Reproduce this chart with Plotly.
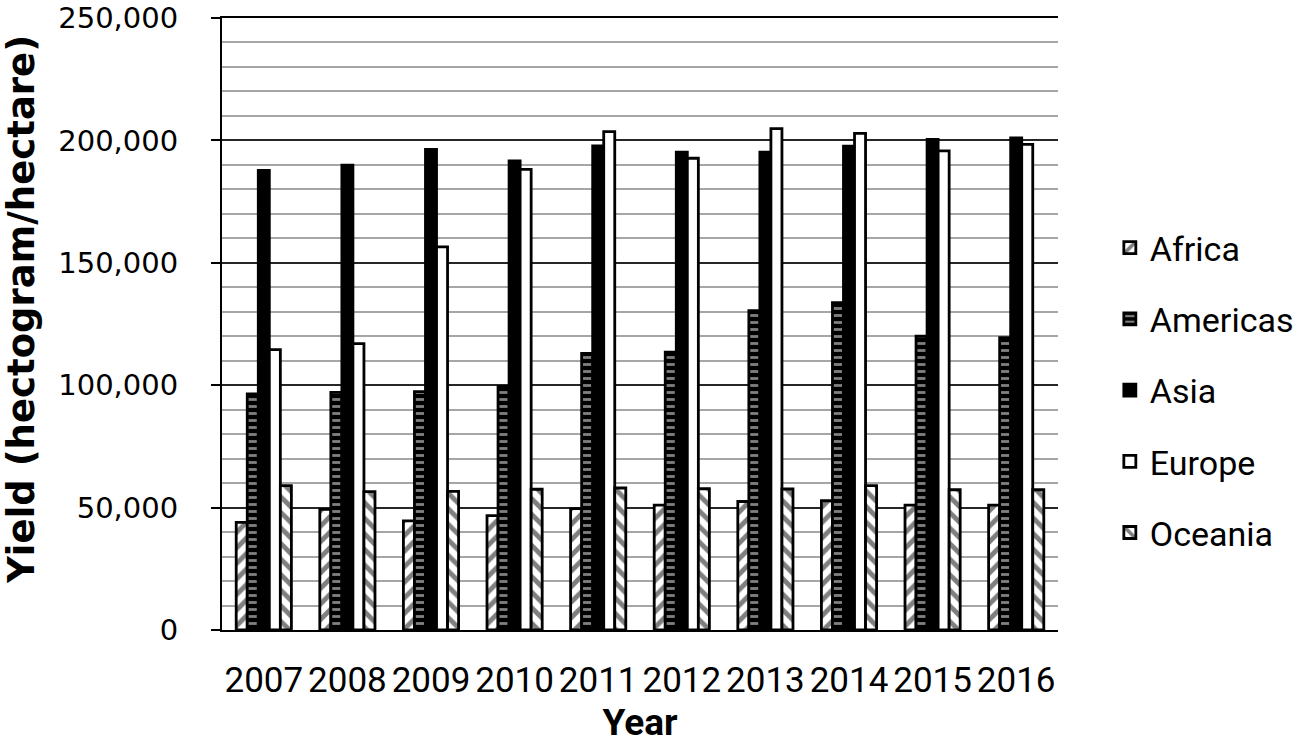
import plotly.graph_objects as go

years = ["2007", "2008", "2009", "2010", "2011", "2012", "2013", "2014", "2015", "2016"]
africa = [44000, 49300, 44600, 46700, 49600, 51000, 52500, 52800, 51000, 51000]
americas = [96400, 97100, 97400, 99500, 113000, 113500, 130500, 133700, 120000, 119400]
asia = [187700, 189900, 196300, 191600, 197800, 195200, 195200, 197700, 200400, 201000]
europe = [114500, 117000, 156500, 188200, 203600, 192700, 204800, 202900, 195700, 198400]
oceania = [59000, 56500, 56600, 57500, 58000, 57700, 57600, 59000, 57300, 57300]

series = [
    ("Africa", africa, dict(color="white", pattern=dict(shape="/", fgcolor="black", bgcolor="white", size=11, solidity=0.45))),
    ("Americas", americas, dict(color="black", pattern=dict(shape="-", fgcolor="white", bgcolor="black", size=7, solidity=0.4))),
    ("Asia", asia, dict(color="black")),
    ("Europe", europe, dict(color="white")),
    ("Oceania", oceania, dict(color="white", pattern=dict(shape="\\", fgcolor="black", bgcolor="white", size=11, solidity=0.45))),
]

fig = go.Figure()
for name, vals, mk in series:
    mk = dict(mk)
    mk["line"] = dict(color="black", width=2.8)
    fig.add_trace(go.Bar(x=years, y=vals, name=name, marker=mk, legendgroup=name))

LBL = "Roboto, Open Sans, sans-serif"

fig.update_layout(
    width=1301, height=754,
    margin=dict(l=222, r=243, t=18, b=124, autoexpand=False),
    paper_bgcolor="white", plot_bgcolor="white",
    barmode="group", bargap=0.34, bargroupgap=0,
    showlegend=True,
    legend=dict(x=1.062, xanchor="left", y=0.392, yanchor="middle",
                font=dict(family=LBL, size=34, color="black"),
                tracegroupgap=24, itemwidth=30),
    xaxis=dict(
        showline=True, linecolor="black", linewidth=2, mirror=True,
        ticks="", showgrid=False, tickangle=0, automargin=False,
        tickfont=dict(family=LBL, size=35, color="black"),
        ticklabelstandoff=18,
        title=dict(text="<b>Year</b>", font=dict(family=LBL, size=37, color="black"), standoff=6),
    ),
    yaxis=dict(
        range=[0, 250000], dtick=50000, tick0=0, automargin=False,
        showline=True, linecolor="black", linewidth=2,
        ticks="outside", ticklen=9, tickwidth=2, tickcolor="black",
        tickformat=",", separatethousands=True, ticklabeloverflow="allow",
        tickfont=dict(family="DejaVu Sans, Verdana, sans-serif", size=29, color="black"),
        ticklabelstandoff=27,
        showgrid=True, gridcolor="#262626", gridwidth=2,
        zeroline=False,
        minor=dict(dtick=10000, tick0=0, showgrid=True, gridcolor="#a6a6a6", gridwidth=2, ticks=""),
    ),
    annotations=[dict(
        text="<b>Yield (hectogram/hectare)</b>", textangle=-90, showarrow=False,
        xref="paper", yref="paper", x=0, y=0.523, xanchor="center", yanchor="middle",
        xshift=-200,
        font=dict(family="DejaVu Sans, Verdana, sans-serif", size=37, color="black"),
    )],
)

fig.write_html("out.html", config={"displayModeBar": False},
               post_script="document.body.style.margin='0';")
